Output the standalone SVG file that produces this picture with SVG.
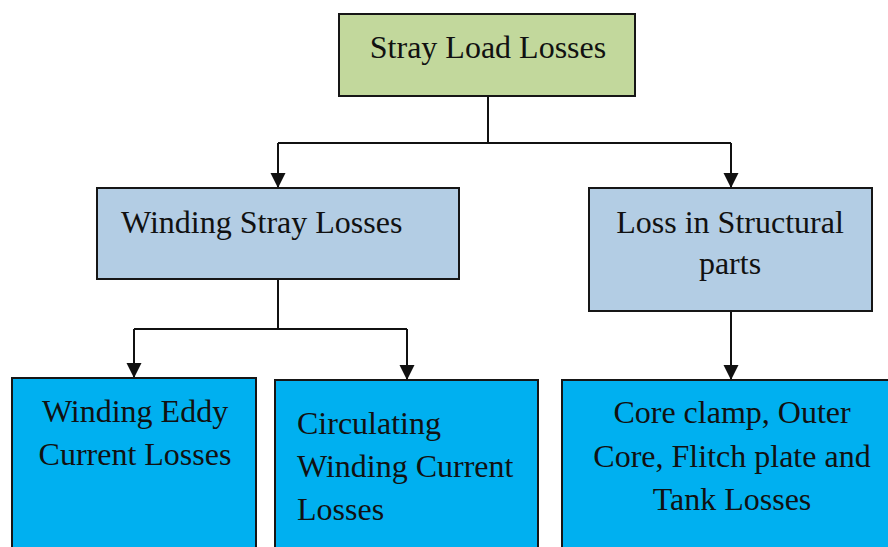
<svg xmlns="http://www.w3.org/2000/svg" width="888" height="547" viewBox="0 0 888 547">
<style>
  .box { stroke: #161616; stroke-width: 2; }
  .green { fill: #C2D89C; }
  .lblue { fill: #B3CDE4; }
  .cyan { fill: #00B0F0; }
  .t { font-family: "Liberation Serif", "Times New Roman", serif; font-size: 32px; fill: #111; }
  .c { text-anchor: middle; }
  .conn { fill: none; stroke: #111; stroke-width: 2; }
</style>
<defs>
  <marker id="arr" markerUnits="userSpaceOnUse" markerWidth="16" markerHeight="16" refX="15" refY="8" orient="auto" viewBox="0 0 16 16">
    <path d="M0,0.5 L15,8 L0,15.5 z" fill="#111"/>
  </marker>
</defs>
<rect width="888" height="547" fill="#fff"/>
<g id="connectors">
  <path class="conn" d="M488 96 V143"/>
  <path class="conn" d="M278 143 H731"/>
  <path class="conn" d="M278 143 V188" marker-end="url(#arr)"/>
  <path class="conn" d="M731 143 V188" marker-end="url(#arr)"/>
  <path class="conn" d="M278 279 V329"/>
  <path class="conn" d="M134 329 H407"/>
  <path class="conn" d="M134 329 V378" marker-end="url(#arr)"/>
  <path class="conn" d="M407 329 V380" marker-end="url(#arr)"/>
  <path class="conn" d="M731 311 V380" marker-end="url(#arr)"/>
</g>
<g id="stray-load-losses">
  <rect class="box green" x="339" y="14" width="296" height="82"/>
  <text class="t c" x="488" y="58">Stray Load Losses</text>
</g>
<g id="winding-stray-losses">
  <rect class="box lblue" x="97" y="188" width="362" height="91"/>
  <text class="t" x="121" y="233">Winding Stray Losses</text>
</g>
<g id="loss-structural">
  <rect class="box lblue" x="589" y="188" width="283" height="123"/>
  <text class="t c" x="730" y="233">Loss in Structural</text>
  <text class="t c" x="730" y="274">parts</text>
</g>
<g id="winding-eddy">
  <rect class="box cyan" x="12" y="378" width="244" height="180"/>
  <text class="t c" x="135" y="422">Winding Eddy</text>
  <text class="t c" x="135" y="465">Current Losses</text>
</g>
<g id="circulating">
  <rect class="box cyan" x="275" y="380" width="263" height="180"/>
  <text class="t" x="297" y="434">Circulating</text>
  <text class="t" x="297" y="477">Winding Current</text>
  <text class="t" x="297" y="520">Losses</text>
</g>
<g id="core-clamp">
  <rect class="box cyan" x="562" y="380" width="340" height="180"/>
  <text class="t c" x="732" y="423">Core clamp, Outer</text>
  <text class="t c" x="732" y="467">Core, Flitch plate and</text>
  <text class="t c" x="732" y="510">Tank Losses</text>
</g>
</svg>
